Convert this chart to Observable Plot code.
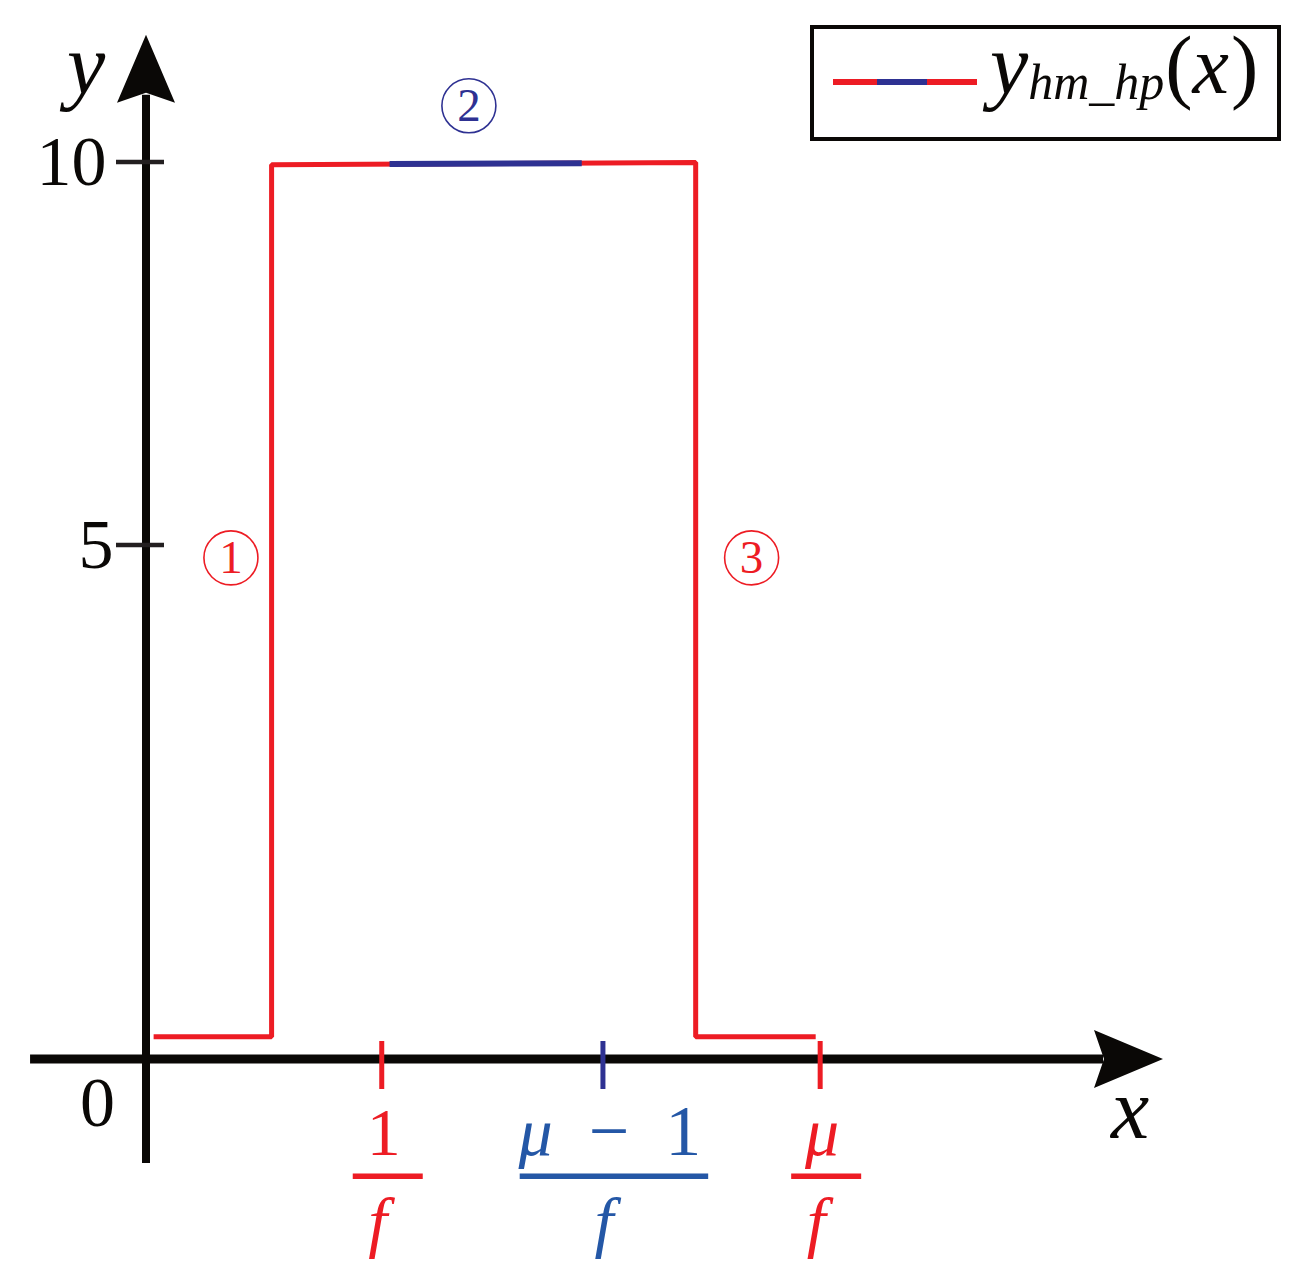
<!DOCTYPE html>
<html><head><meta charset="utf-8">
<script src="https://cdn.jsdelivr.net/npm/d3@7"></script>
<script src="https://cdn.jsdelivr.net/npm/@observablehq/plot@0.6"></script>
<style>html,body{margin:0;padding:0;background:#fff;}</style>
</head><body><div id="chart"></div>
<script>
const RED = "#ed1c24", NAVY = "#2e3192", BLUE = "#2457a6", INK = "#0a0806";
const SERIF = "'Liberation Serif', 'Times New Roman', serif";

// step curve y_hm_hp(x) (schematic units)
const stepX = [0.07, 1.23, 1.23, 5.40, 5.40, 6.58];
const stepY = [0.22, 0.22, 9.97, 10.0, 0.22, 0.22];
// highlighted middle segment (part 2)
const midX = [2.39, 4.28];
const midY = [9.98, 9.99];

// x tick marks and fraction labels
const xTickValues = [2.318, 4.493, 6.629];
const xTickNum = ["1", "\u03bc\u2002\u2212\u20021", "\u03bc"];
const xTickDen = ["f", "f", "f"];
const xTickMarkColor = [RED, NAVY, RED];
const xTickLabelColor = [RED, BLUE, RED];

// y ticks
const yTickValues = [10, 5];
const yTickLabels = ["10", "5"];

// circled region numbers
const circX = [0.83, 3.17, 5.95];
const circY = [4.88, 10.74, 4.88];
const circLabels = ["1", "2", "3"];
const circColors = [RED, NAVY, RED];

// axis extents
const xAxisMin = -1.14, xAxisTip = 10;
const yAxisMin = -1, yAxisTip = 11.66;

// schematic (non-uniform) vertical axis: 0..5 is drawn taller than 5..10
const yWarp = d3.scaleLinear().domain([-1, 0, 5, 10]).range([-1, 0.143, 5.791, 10]);

const stepData = stepX.map((x, i) => ({x, y: stepY[i]}));
const midData = midX.map((x, i) => ({x, y: midY[i]}));
const circData = circX.map((x, i) => ({x, y: circY[i], label: circLabels[i], color: circColors[i]}));
const yTickData = yTickValues.map((v, i) => ({y: v, label: yTickLabels[i]}));
const xTickData = xTickValues.map((v, i) => ({v, num: xTickNum[i], den: xTickDen[i], mark: xTickMarkColor[i], color: xTickLabelColor[i]}));
const wy = d => yWarp(d.y);

const canvas = document.createElement("canvas");
const ctx2d = canvas.getContext("2d");
function runs(s) {
  const out = [];
  for (const ch of s) {
    const it = /[A-Za-z\u03bc]/.test(ch);
    if (out.length && out[out.length - 1].it === it) out[out.length - 1].t += ch;
    else out.push({t: ch, it});
  }
  return out;
}
function measure(s, size) {
  let w = 0;
  for (const r of runs(s)) {
    ctx2d.font = `${r.it ? "italic " : ""}${size}px "Liberation Serif"`;
    w += ctx2d.measureText(r.t).width;
  }
  return w;
}
function addRuns(textSel, s) {
  for (const r of runs(s)) {
    const ts = textSel.append("tspan").attr("font-style", r.it ? "italic" : "normal").text(r.t);
    if (r.t.includes("\u2212")) ts.attr("font-size", "1.06em");
  }
}

// axes with arrow heads, ticks, axis names
function axesMark(index, scales) {
  const X = scales.x, Y = v => scales.y(yWarp(v));
  const g = d3.create("svg:g");
  const ox = X(0), oy = Y(0);
  const xt = X(xAxisTip), yt = Y(yAxisTip);
  g.append("line").attr("x1", X(xAxisMin)).attr("x2", xt - 60).attr("y1", oy).attr("y2", oy)
    .attr("stroke", INK).attr("stroke-width", 9);
  g.append("line").attr("x1", ox).attr("x2", ox).attr("y1", Y(yAxisMin)).attr("y2", yt + 60)
    .attr("stroke", INK).attr("stroke-width", 8);
  g.append("path").attr("fill", INK)
    .attr("d", `M${xt},${oy}L${xt - 69},${oy - 29}L${xt - 59},${oy}L${xt - 69},${oy + 29}Z`);
  g.append("path").attr("fill", INK)
    .attr("d", `M${ox},${yt}L${ox - 29},${yt + 68}L${ox},${yt + 58}L${ox + 29},${yt + 68}Z`);
  for (const d of yTickData) {
    g.append("line").attr("x1", ox - 30).attr("x2", ox + 18).attr("y1", Y(d.y)).attr("y2", Y(d.y))
      .attr("stroke", "#231f20").attr("stroke-width", 4.5);
  }
  for (const d of xTickData) {
    g.append("line").attr("x1", X(d.v)).attr("x2", X(d.v)).attr("y1", oy - 18).attr("y2", oy + 30)
      .attr("stroke", d.mark).attr("stroke-width", 5);
  }
  const txt = (x, y, s, anchor, italic) => g.append("text").attr("x", x).attr("y", y)
    .attr("text-anchor", anchor).attr("font-family", SERIF).attr("font-style", italic ? "italic" : "normal")
    .attr("font-size", italic ? 86 : 70).attr("fill", INK).text(s);
  txt(ox - 31, oy + 67, "0", "end", false);
  txt(ox - 60, yt + 58, "y", "middle", true);
  txt(xt - 33, oy + 79, "x", "middle", true);
  return g.node();
}

// fraction labels below x ticks
function fracMark(index, scales) {
  const X = scales.x, Y = v => scales.y(yWarp(v));
  const g = d3.create("svg:g").attr("font-family", SERIF);
  const oy = Y(0);
  const size = 68;
  for (const d of xTickData) {
    const cx = X(d.v);
    const w = measure(d.num, size);
    const shift = d.num.length > 1 ? 7 : 2;
    const t = g.append("text").attr("x", cx + shift).attr("y", oy + 96).attr("text-anchor", "middle")
      .attr("font-size", size).attr("fill", d.color);
    addRuns(t, d.num);
    const bw = Math.max(w + 14, 70);
    g.append("rect").attr("x", cx + shift + 4 - bw / 2).attr("y", oy + 114.5)
      .attr("width", bw).attr("height", 5.5).attr("fill", d.color);
    const t2 = g.append("text").attr("x", cx + shift - 6).attr("y", oy + 186).attr("text-anchor", "middle")
      .attr("font-size", size).attr("fill", d.color);
    addRuns(t2, d.den);
  }
  return g.node();
}

// legend box
function legendMark(index, scales, values, dims) {
  const g = d3.create("svg:g").attr("font-family", SERIF);
  const bx = dims.width - 492, by = 27;
  g.append("rect").attr("x", bx).attr("y", by).attr("width", 467).attr("height", 112)
    .attr("fill", "white").attr("stroke", INK).attr("stroke-width", 4);
  const ly = by + 55;
  g.append("line").attr("x1", bx + 21).attr("x2", bx + 165).attr("y1", ly).attr("y2", ly)
    .attr("stroke", RED).attr("stroke-width", 6);
  g.append("line").attr("x1", bx + 65).attr("x2", bx + 115).attr("y1", ly).attr("y2", ly)
    .attr("stroke", NAVY).attr("stroke-width", 6);
  const t = g.append("text").attr("x", bx + 178).attr("y", by + 66).attr("fill", INK)
    .attr("text-anchor", "start");
  t.append("tspan").attr("font-style", "italic").attr("font-size", 86).text("y");
  t.append("tspan").attr("font-style", "italic").attr("font-size", 50).attr("dy", 6).text("hm_hp");
  t.append("tspan").attr("font-size", 82).attr("dy", -6).attr("dx", 1).text("(");
  t.append("tspan").attr("font-style", "italic").attr("font-size", 82).text("x");
  t.append("tspan").attr("font-size", 82).attr("dx", 2).text(")");
  return g.node();
}

const chart = Plot.plot({
  width: 1304,
  height: 1286,
  margin: 0,
  style: {background: "white"},
  x: {type: "linear", domain: [0, 10], range: [146, 1163], axis: null},
  y: {type: "linear", domain: [-1, 10], range: [1163, 162], axis: null},
  color: {type: "identity"},
  marks: [
    axesMark,
    Plot.text(yTickData.filter(d => d.y === 10), {x: 0, y: wy, text: "label", textAnchor: "end", lineAnchor: "middle", dx: -40, fontSize: 70, fontFamily: SERIF, fill: INK, style: {letterSpacing: "5px"}}),
    Plot.text(yTickData.filter(d => d.y === 5), {x: 0, y: wy, text: "label", textAnchor: "end", lineAnchor: "middle", dx: -33, fontSize: 70, fontFamily: SERIF, fill: INK}),
    Plot.line(stepData, {x: "x", y: wy, stroke: RED, strokeWidth: 5, strokeLinejoin: "miter", strokeLinecap: "butt"}),
    Plot.line(midData, {x: "x", y: wy, stroke: NAVY, strokeWidth: 6, strokeLinecap: "butt"}),
    Plot.dot(circData, {x: "x", y: wy, r: 27, stroke: "color", fill: "none", strokeWidth: 1.6}),
    Plot.text(circData, {x: "x", y: wy, text: "label", fill: "color", fontSize: 47, fontFamily: SERIF, lineAnchor: "middle"}),
    fracMark,
    legendMark
  ]
});
document.getElementById("chart").appendChild(chart);
</script>
</body></html>
